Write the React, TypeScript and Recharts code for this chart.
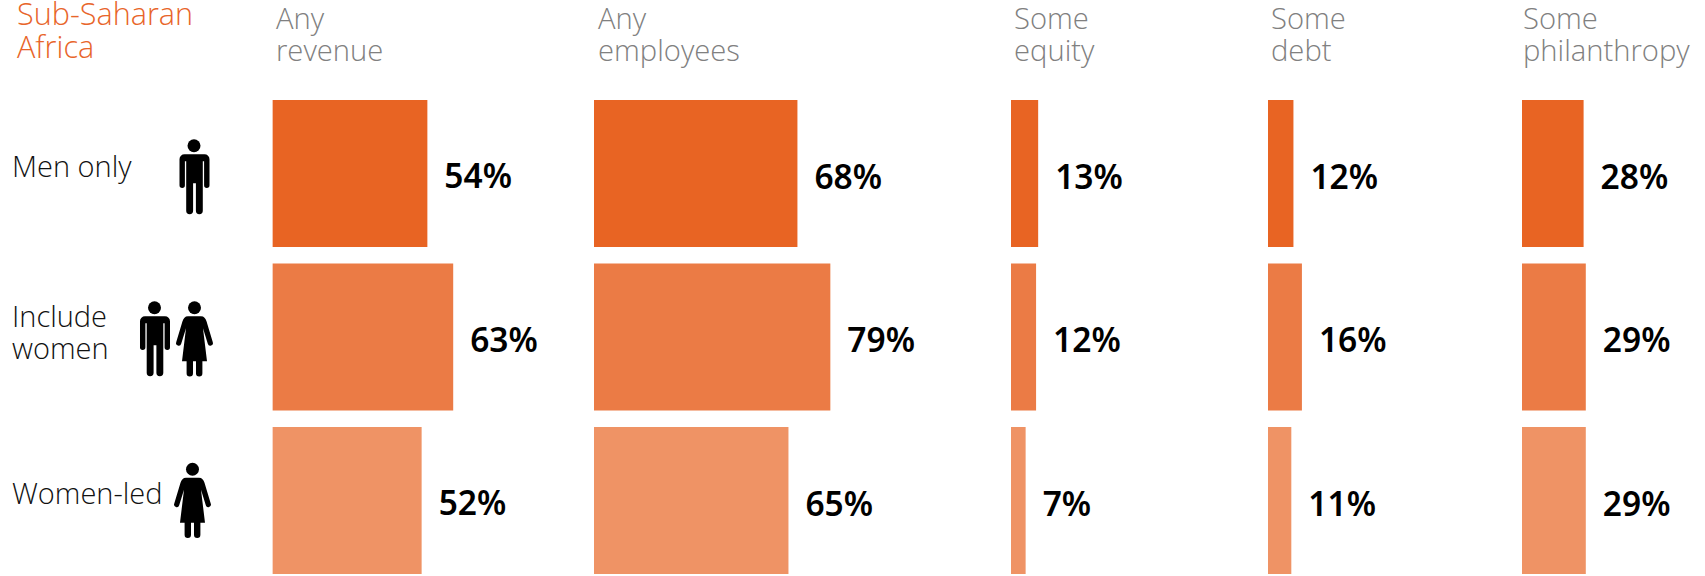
import React from "react";
import { BarChart, Bar, Cell, XAxis, YAxis, LabelList } from "recharts";

const rows = ["Men only", "Include women", "Women-led"];
const anyRevenue = [54, 63, 52];
const anyEmployees = [68, 79, 65];
const someEquity = [13, 12, 7];
const someDebt = [12, 16, 11];
const somePhilanthropy = [28, 29, 29];
const rowColors = ["#E86423", "#EB7B45", "#EF9365"];

const LIGHT = "'Open Sans', 'Noto Sans', sans-serif";
const STRONG = "'Noto Sans', sans-serif";
const PLOT_TOP = 91.75;
const PLOT_HEIGHT = 490.5;
const AXIS_WIDTH = 272.4;

const panels = [
  { title: ["Any", "revenue"], values: anyRevenue, left: 272.4, plot: 287, max: 100, titleX: 276 },
  { title: ["Any", "employees"], values: anyEmployees, left: 593.7, plot: 359, max: 120, titleX: 598 },
  { title: ["Some", "equity"], values: someEquity, left: 1010.5, plot: 209, max: 100, titleX: 1014 },
  { title: ["Some", "debt"], values: someDebt, left: 1267.6, plot: 212, max: 100, titleX: 1271 },
  { title: ["Some", "philanthropy"], values: somePhilanthropy, left: 1521.8, plot: 176, max: 80, titleX: 1523 },
];

function Man({ x, y }: { x: number; y: number }) {
  return (
    <g transform={`translate(${x},${y})`} fill="#000">
      <circle cx={15.5} cy={6.5} r={6.5} />
      <path d="M5 15 H26 a5 5 0 0 1 5 5 V46 a2.7 2.7 0 0 1 -5.4 0 V22 h-1.3 V71.5 a3.4 3.4 0 0 1 -6.9 0 V44 h-2.8 V71.5 a3.4 3.4 0 0 1 -6.9 0 V22 h-1.3 V46 a2.7 2.7 0 0 1 -5.4 0 V20 a5 5 0 0 1 5 -5 Z" />
    </g>
  );
}

function Woman({ x, y }: { x: number; y: number }) {
  return (
    <g transform={`translate(${x},${y})`} fill="#000">
      <circle cx={18.5} cy={6.5} r={6.5} />
      <path d="M12 15 H25 C28 15 29.5 17 30.5 20 L36.8 41 a2.6 2.6 0 0 1 -5 1.6 L27 27 L31 60 H26.4 V72 a3.2 3.2 0 0 1 -6.4 0 V60 H17 V72 a3.2 3.2 0 0 1 -6.4 0 V60 H6 L10 27 L5.2 42.6 a2.6 2.6 0 0 1 -5 -1.6 L6.5 20 C7.5 17 9 15 12 15 Z" />
    </g>
  );
}

const rowText = { fontFamily: LIGHT, fontWeight: 300, fontSize: 29, fill: "#111" };

// Row captions and their pictograms share the category axis of the first panel.
function RowTick({ y, payload }: any) {
  const name = payload.value;
  if (name === "Men only") {
    return (
      <g>
        <text x={12} y={y + 3} {...rowText}>Men only</text>
        <Man x={178.5} y={y - 34.5} />
      </g>
    );
  }
  if (name === "Include women") {
    return (
      <g>
        <text x={12} y={y - 10} {...rowText}>Include</text>
        <text x={12} y={y + 22} {...rowText}>women</text>
        <Man x={139} y={y - 36} />
        <Woman x={176} y={y - 36} />
      </g>
    );
  }
  return (
    <g>
      <text x={12} y={y + 3} {...rowText}>{name}</text>
      <Woman x={174} y={y - 38} />
    </g>
  );
}

function ValueLabel({ x, y, width, height, value }: any) {
  return (
    <text
      x={x + width + 17}
      y={y + height / 2 + 15}
      fontFamily={STRONG}
      fontWeight={600}
      fontSize={33.5}
      fill="#000"
    >
      {value}%
    </text>
  );
}

function Panel({ panel, first }: { panel: (typeof panels)[number]; first: boolean }) {
  const data = rows.map((row, i) => ({ row, value: panel.values[i] }));
  const axisWidth = first ? AXIS_WIDTH : 0;
  const left = panel.left - axisWidth;
  return (
    <div style={{ position: "absolute", left, top: PLOT_TOP }}>
      <BarChart
        layout="vertical"
        width={panel.plot + axisWidth}
        height={PLOT_HEIGHT}
        data={data}
        margin={{ top: 0, right: 0, bottom: 0, left: 0 }}
      >
        <XAxis type="number" hide domain={[0, panel.max]} allowDataOverflow />
        <YAxis
          type="category"
          dataKey="row"
          width={axisWidth}
          hide={!first}
          axisLine={false}
          tickLine={false}
          interval={0}
          tick={first ? <RowTick /> : false}
        />
        <Bar dataKey="value" barSize={147} isAnimationActive={false}>
          {data.map((d, i) => (
            <Cell key={d.row} fill={rowColors[i]} />
          ))}
          <LabelList dataKey="value" content={<ValueLabel />} />
        </Bar>
      </BarChart>
    </div>
  );
}

function Heading({ lines, x, color, size, top, gap }: any) {
  return (
    <>
      {lines.map((line: string, i: number) => (
        <div
          key={line}
          style={{
            position: "absolute",
            left: x,
            top: top + i * gap,
            fontFamily: LIGHT,
            fontWeight: 300,
            fontSize: size,
            lineHeight: `${gap}px`,
            color,
            whiteSpace: "nowrap",
          }}
        >
          {line}
        </div>
      ))}
    </>
  );
}

export default function App() {
  return (
    <div
      style={{
        position: "absolute",
        left: 0,
        top: 0,
        width: 1705,
        height: 576,
        overflow: "hidden",
        background: "#fff",
      }}
    >
      <Heading lines={["Sub-Saharan", "Africa"]} x={17} color="#E8652A" size={30.6} top={-3} gap={33} />
      {panels.map((p) => (
        <Heading key={p.titleX} lines={p.title} x={p.titleX} color="#808080" size={29.2} top={2} gap={32} />
      ))}
      {panels.map((p, i) => (
        <Panel key={p.left} panel={p} first={i === 0} />
      ))}
    </div>
  );
}
